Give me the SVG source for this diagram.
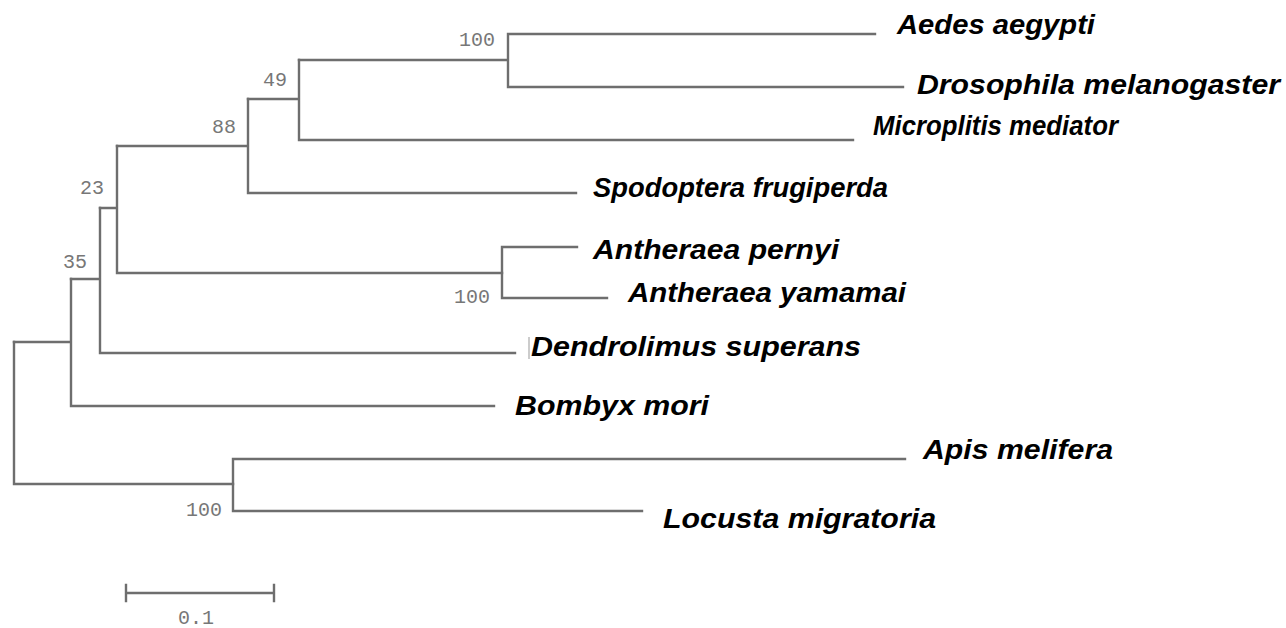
<svg xmlns="http://www.w3.org/2000/svg" width="1286" height="628" viewBox="0 0 1286 628">
<style>
.br{stroke:#6e6e6e;stroke-width:2.4;fill:none;stroke-linecap:square}
.tx{font-family:"Liberation Sans",Arial,sans-serif;font-weight:bold;font-style:italic;font-size:28px;fill:#000}
.bs{font-family:"Liberation Mono","Courier New",monospace;font-size:20px;fill:#777;text-anchor:end}
</style>
<rect width="1286" height="628" fill="#fff"/>
<g id="connectors">
<path class="br" d="M508,34V87M508,34H875M508,87H903M299,60H508"/>
<path class="br" d="M299,60V140M299,140H853M248,99H299"/>
<path class="br" d="M248,99V193M248,193H576M117,146H248"/>
<path class="br" d="M117,146V273M117,273H502M100,208H117"/>
<path class="br" d="M502,247V298M502,247H577M502,298H607"/>
<path class="br" d="M100,208V353M100,353H515M71,279H100"/>
<path class="br" d="M71,279V406M71,406H494M14,342H71"/>
<path class="br" d="M14,342V484M14,484H233"/>
<path class="br" d="M233,459V511M233,459H905M233,511H642"/>
<path d="M529,337V359" stroke="#999" stroke-width="1" fill="none"/>
</g>
<g id="taxon-aedes"><text class="tx" x="897" y="34" textLength="198" lengthAdjust="spacingAndGlyphs">Aedes aegypti</text></g>
<g id="taxon-drosophila"><text class="tx" x="917" y="94" textLength="363" lengthAdjust="spacingAndGlyphs">Drosophila melanogaster</text></g>
<g id="taxon-microplitis"><text class="tx" x="873" y="135" textLength="245" lengthAdjust="spacingAndGlyphs">Microplitis mediator</text></g>
<g id="taxon-spodoptera"><text class="tx" x="593" y="197" textLength="295" lengthAdjust="spacingAndGlyphs">Spodoptera frugiperda</text></g>
<g id="taxon-pernyi"><text class="tx" x="593" y="259" textLength="246" lengthAdjust="spacingAndGlyphs">Antheraea pernyi</text></g>
<g id="taxon-yamamai"><text class="tx" x="628" y="302" textLength="278" lengthAdjust="spacingAndGlyphs">Antheraea yamamai</text></g>
<g id="taxon-dendrolimus"><text class="tx" x="531" y="356" textLength="330" lengthAdjust="spacingAndGlyphs">Dendrolimus superans</text></g>
<g id="taxon-bombyx"><text class="tx" x="515" y="415" textLength="194" lengthAdjust="spacingAndGlyphs">Bombyx mori</text></g>
<g id="taxon-apis"><text class="tx" x="923" y="459" textLength="190" lengthAdjust="spacingAndGlyphs">Apis melifera</text></g>
<g id="taxon-locusta"><text class="tx" x="663" y="528" textLength="273" lengthAdjust="spacingAndGlyphs">Locusta migratoria</text></g>
<g id="node-aedes-drosophila"><text class="bs" x="495" y="46">100</text></g>
<g id="node-49"><text class="bs" x="287" y="86">49</text></g>
<g id="node-88"><text class="bs" x="236" y="133">88</text></g>
<g id="node-23"><text class="bs" x="104" y="194">23</text></g>
<g id="node-35"><text class="bs" x="87" y="268">35</text></g>
<g id="node-antheraea"><text class="bs" x="490" y="303">100</text></g>
<g id="node-apis-locusta"><text class="bs" x="222" y="516">100</text></g>
<g id="scale-bar">
<path class="br" d="M126,593H274M126,585V601M274,585V601" stroke-width="2"/>
<text class="bs" x="214" y="624">0.1</text>
</g>
</svg>
